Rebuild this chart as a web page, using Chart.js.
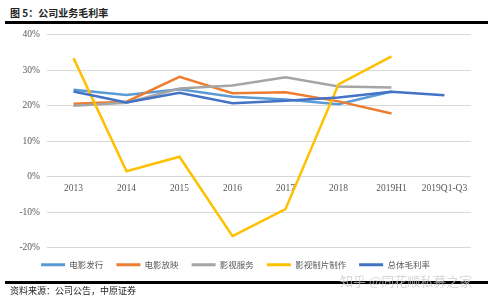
<!DOCTYPE html>
<html><head><meta charset="utf-8">
<script src="https://cdn.jsdelivr.net/npm/chart.js@4/dist/chart.umd.min.js"></script>
<style>
html,body{margin:0;padding:0;background:#fff;width:500px;height:306px;overflow:hidden;position:relative;font-family:"Noto Sans CJK SC",sans-serif;}
#title{position:absolute;left:10px;top:5px;font-size:10px;font-weight:bold;color:#222;}
.rule{position:absolute;left:5px;width:483px;height:3px;background:#000;}
#src{position:absolute;left:10px;top:284px;font-size:9px;color:#222;}
#wm{position:absolute;left:340px;top:271px;font-size:13px;color:rgba(200,200,200,0.75);}
#box{position:absolute;left:0;top:22px;width:500px;height:257px;}
</style></head><body>
<div id="title">图 5：公司业务毛利率</div>
<div class="rule" style="top:21px"></div>
<div id="box"><canvas id="c"></canvas></div>
<div class="rule" style="top:281px"></div>
<div id="src">资料来源：公司公告，中原证券</div>
<div id="wm">知乎 @同花顺私募之家</div>
<script>
const categories = ["2013","2014","2015","2016","2017","2018","2019H1","2019Q1-Q3"];
const seriesNames = ["电影发行","电影放映","影视服务","影视制片制作","总体毛利率"];
const filmDistribution = [24.5, 23.0, 24.6, 22.5, 21.7, 20.4, 24.0, null];
const cinemaScreening = [20.5, 21.1, 28.1, 23.5, 23.8, 21.2, 17.8, null];
const filmServices = [20.0, 20.8, 24.8, 25.7, 28.0, 25.4, 25.1, null];
const production = [33.4, 1.5, 5.6, -16.8, -9.2, 26.0, 33.9, null];
const overall = [24.0, 20.9, 23.6, 20.7, 21.4, 22.3, 23.9, 22.9];
const yTicks = [-20, -10, 0, 10, 20, 30, 40];

const colors = ["#5B9BD5","#ED7D31","#A5A5A5","#FFC000","#4472C4"];
const values = [filmDistribution, cinemaScreening, filmServices, production, overall];

new Chart(document.getElementById('c'), {
  type: 'line',
  data: {
    labels: categories,
    datasets: values.map((v, i) => ({
      label: seriesNames[i],
      data: v,
      borderColor: colors[i],
      backgroundColor: colors[i],
      borderWidth: 2.5,
      pointRadius: 0,
      tension: 0,
      spanGaps: false,
      order: 5 - i
    }))
  },
  options: {
    responsive: true,
    maintainAspectRatio: false,
    animation: false,
    layout: { padding: { top: 6, right: 29, left: 0, bottom: 0 } },
    plugins: {
      tooltip: { enabled: false },
      legend: {
        position: 'bottom',
        labels: {
          boxWidth: 24, boxHeight: 3, padding: 13,
          color: '#595959',
          font: { size: 8.5, family: '"Noto Sans CJK SC", sans-serif' },
          generateLabels(chart) {
            return chart.data.datasets.map((d, i) => ({
              text: d.label, fillStyle: d.borderColor, strokeStyle: d.borderColor,
              lineWidth: 0, datasetIndex: i, fontColor: '#595959'
            }));
          }
        }
      }
    },
    scales: {
      x: {
        position: { y: 0 },
        offset: true,
        grid: { display: false, drawTicks: false },
        border: { display: false },
        ticks: { color: '#595959', font: { size: 9.5, family: '"Liberation Serif", serif' }, maxRotation: 0, autoSkip: false, padding: 6 }
      },
      y: {
        min: -20, max: 40,
        afterBuildTicks(scale) { scale.ticks = yTicks.map(v => ({ value: v })); },
        afterFit(scale) { scale.width = 47; },
        grid: { color: '#D9D9D9', lineWidth: 1, drawTicks: false },
        border: { display: false },
        ticks: { color: '#595959', padding: 7, font: { size: 9.5, family: '"Liberation Serif", serif' }, callback: v => v + '%' }
      }
    }
  }
});
</script>
</body></html>
